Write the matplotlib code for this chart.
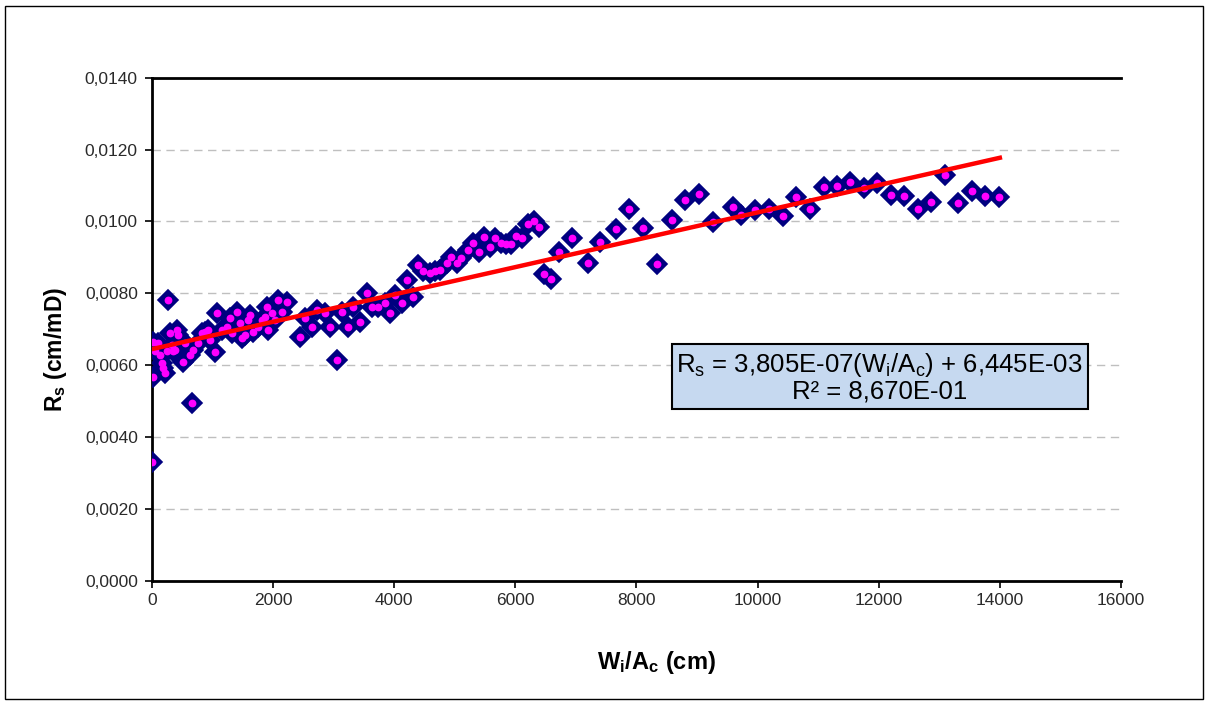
import matplotlib
matplotlib.use("Agg")
import matplotlib.pyplot as plt
import numpy as np
from matplotlib.patches import Rectangle

plt.rcParams['font.family'] = ['Liberation Sans', 'DejaVu Sans']
plt.rcParams['mathtext.fontset'] = 'custom'
plt.rcParams['mathtext.rm'] = 'Liberation Sans'
plt.rcParams['mathtext.it'] = 'Liberation Sans:italic'
plt.rcParams['mathtext.bf'] = 'Liberation Sans:bold'

wi_ac = [0, 16, 26, 60, 109, 137, 165, 191, 219, 250, 274, 302, 330, 357, 384, 412, 439,
         521, 549, 632, 670, 686, 769, 825, 879, 934, 962, 1044, 1072, 1155, 1237,
         1291, 1319, 1402, 1456, 1484, 1539, 1593, 1621, 1676, 1758, 1814, 1869,
         1897, 1923, 1979, 2034, 2088, 2144, 2227, 2446, 2528, 2639, 2721, 2858,
         2941, 3051, 3134, 3243, 3325, 3436, 3546, 3628, 3738, 3848, 3930, 4013,
         4123, 4206, 4315, 4397, 4480, 4590, 4673, 4755, 4866, 4948, 5031, 5113,
         5222, 5304, 5398, 5481, 5580, 5674, 5761, 5844, 5938, 6020, 6119, 6212,
         6305, 6393, 6470, 6586, 6718, 6944, 7201, 7406, 7658, 7877, 8109, 8340,
         8593, 8807, 9027, 9263, 9593, 9731, 9951, 10187, 10418, 10638, 10869,
         11089, 11308, 11534, 11754, 11974, 12205, 12425, 12644, 12865, 13096,
         13315, 13541, 13761, 13991]
rs = [0.0033, 0.00566, 0.00665, 0.0064, 0.00661, 0.00628, 0.00605, 0.00591, 0.00577,
      0.0064, 0.0078, 0.00689, 0.00656, 0.0064, 0.00642, 0.00698, 0.00684,
      0.00610, 0.00661, 0.00628, 0.00495, 0.00642, 0.00661, 0.00689, 0.00693,
      0.00698, 0.00670, 0.00637, 0.00744, 0.00698, 0.00707,
      0.00730, 0.00689, 0.00749, 0.00716, 0.00675, 0.00684, 0.00726, 0.00740,
      0.00693, 0.00707, 0.00726, 0.00735,
      0.00763, 0.00698, 0.00744, 0.00726, 0.00781, 0.00749, 0.00777, 0.00679,
      0.0073, 0.00707, 0.00753, 0.00744,
      0.00707, 0.00614, 0.00749, 0.00707, 0.00763, 0.00721, 0.0080, 0.00763,
      0.00763, 0.00772, 0.00744, 0.00795,
      0.00772, 0.00838, 0.0079, 0.00879, 0.00863, 0.00856, 0.00863, 0.00865,
      0.00885, 0.009, 0.00885, 0.00899,
      0.0092, 0.0094, 0.00916, 0.00957, 0.0093, 0.00953, 0.0094, 0.00936,
      0.00936, 0.00959, 0.00953, 0.00993,
      0.01002, 0.00984, 0.00853, 0.00839, 0.00916, 0.00953, 0.00883, 0.00944,
      0.00978, 0.01034, 0.00983, 0.00881,
      0.01004, 0.01061, 0.01076, 0.00998, 0.01039, 0.01018, 0.01032, 0.01034,
      0.01015, 0.01069, 0.01036,
      0.01097, 0.01099, 0.0111, 0.01092, 0.01108, 0.01073, 0.01071, 0.01036,
      0.01055, 0.01129,
      0.01052, 0.01086, 0.01071, 0.01067]

slope = 3.805e-07
intercept = 6.445e-03
fit_x = [0, 14000]

x_ticks = [0, 2000, 4000, 6000, 8000, 10000, 12000, 14000, 16000]
y_ticks = [0.0, 0.002, 0.004, 0.006, 0.008, 0.010, 0.012, 0.014]

fig = plt.figure(figsize=(12.08, 7.04), dpi=100)
ax = fig.add_axes([0.1256, 0.1751, 0.8024, 0.7145])

ax.set_xlim(0, 16000)
ax.set_ylim(0, 0.014)
ax.set_xticks(x_ticks)
ax.set_yticks(y_ticks)
ax.set_xticklabels([str(v) for v in x_ticks])
ax.set_yticklabels([f"{v:.4f}".replace('.', ',') for v in y_ticks])

ax.yaxis.grid(True, linestyle=(0, (6, 4)), color='#BFBFBF', linewidth=1.0)
ax.set_axisbelow(True)

# navy diamonds with a magenta centre
ax.plot(wi_ac, rs, linestyle='none', marker='D', markersize=10,
        markerfacecolor='#000080', markeredgecolor='#000080',
        markeredgewidth=1.2, zorder=3)
ax.plot(wi_ac, rs, linestyle='none', marker='o', markersize=5.6,
        markerfacecolor='#FF00FF', markeredgecolor='#FF00FF',
        markeredgewidth=0, zorder=3.1)

fx = np.array(fit_x, dtype=float)
ax.plot(fx, slope * fx + intercept, color='#FF0000', linewidth=3.2, zorder=4)

for s in ['left', 'bottom', 'top']:
    ax.spines[s].set_linewidth(2.0)
    ax.spines[s].set_color('black')
ax.spines['right'].set_visible(False)

ax.tick_params(axis='both', direction='out', length=5, width=1.2,
               labelsize=12.5, labelcolor='#2a2a2a', colors='black')
ax.tick_params(axis='x', pad=4)
ax.tick_params(axis='y', pad=5)

ax.set_xlabel(r'W$_\mathregular{i}$/A$_\mathregular{c}$ (cm)', fontsize=17, fontweight='bold')
ax.set_ylabel(r'R$_\mathregular{s}$ (cm/mD)', fontsize=16.5, fontweight='bold')
ax.xaxis.set_label_coords(0.521, -0.135)
ax.yaxis.set_label_coords(-0.085, 0.46)

ax.text(0.751, 0.404,
        'R$_\\mathregular{s}$ = 3,805E-07(W$_\\mathregular{i}$/A$_\\mathregular{c}$) + 6,445E-03\nR² = 8,670E-01',
        transform=ax.transAxes, ha='center', va='center', fontsize=18.5,
        linespacing=1.05, zorder=5,
        bbox=dict(boxstyle='square,pad=0.18', facecolor='#C6D9F0',
                  edgecolor='black', linewidth=1.5))

fig.patches.append(Rectangle((5 / 1208, 5 / 704), 1198 / 1208, 693 / 704,
                             transform=fig.transFigure, fill=False,
                             edgecolor='black', linewidth=1.0))

fig.savefig('out.png', dpi=100)
